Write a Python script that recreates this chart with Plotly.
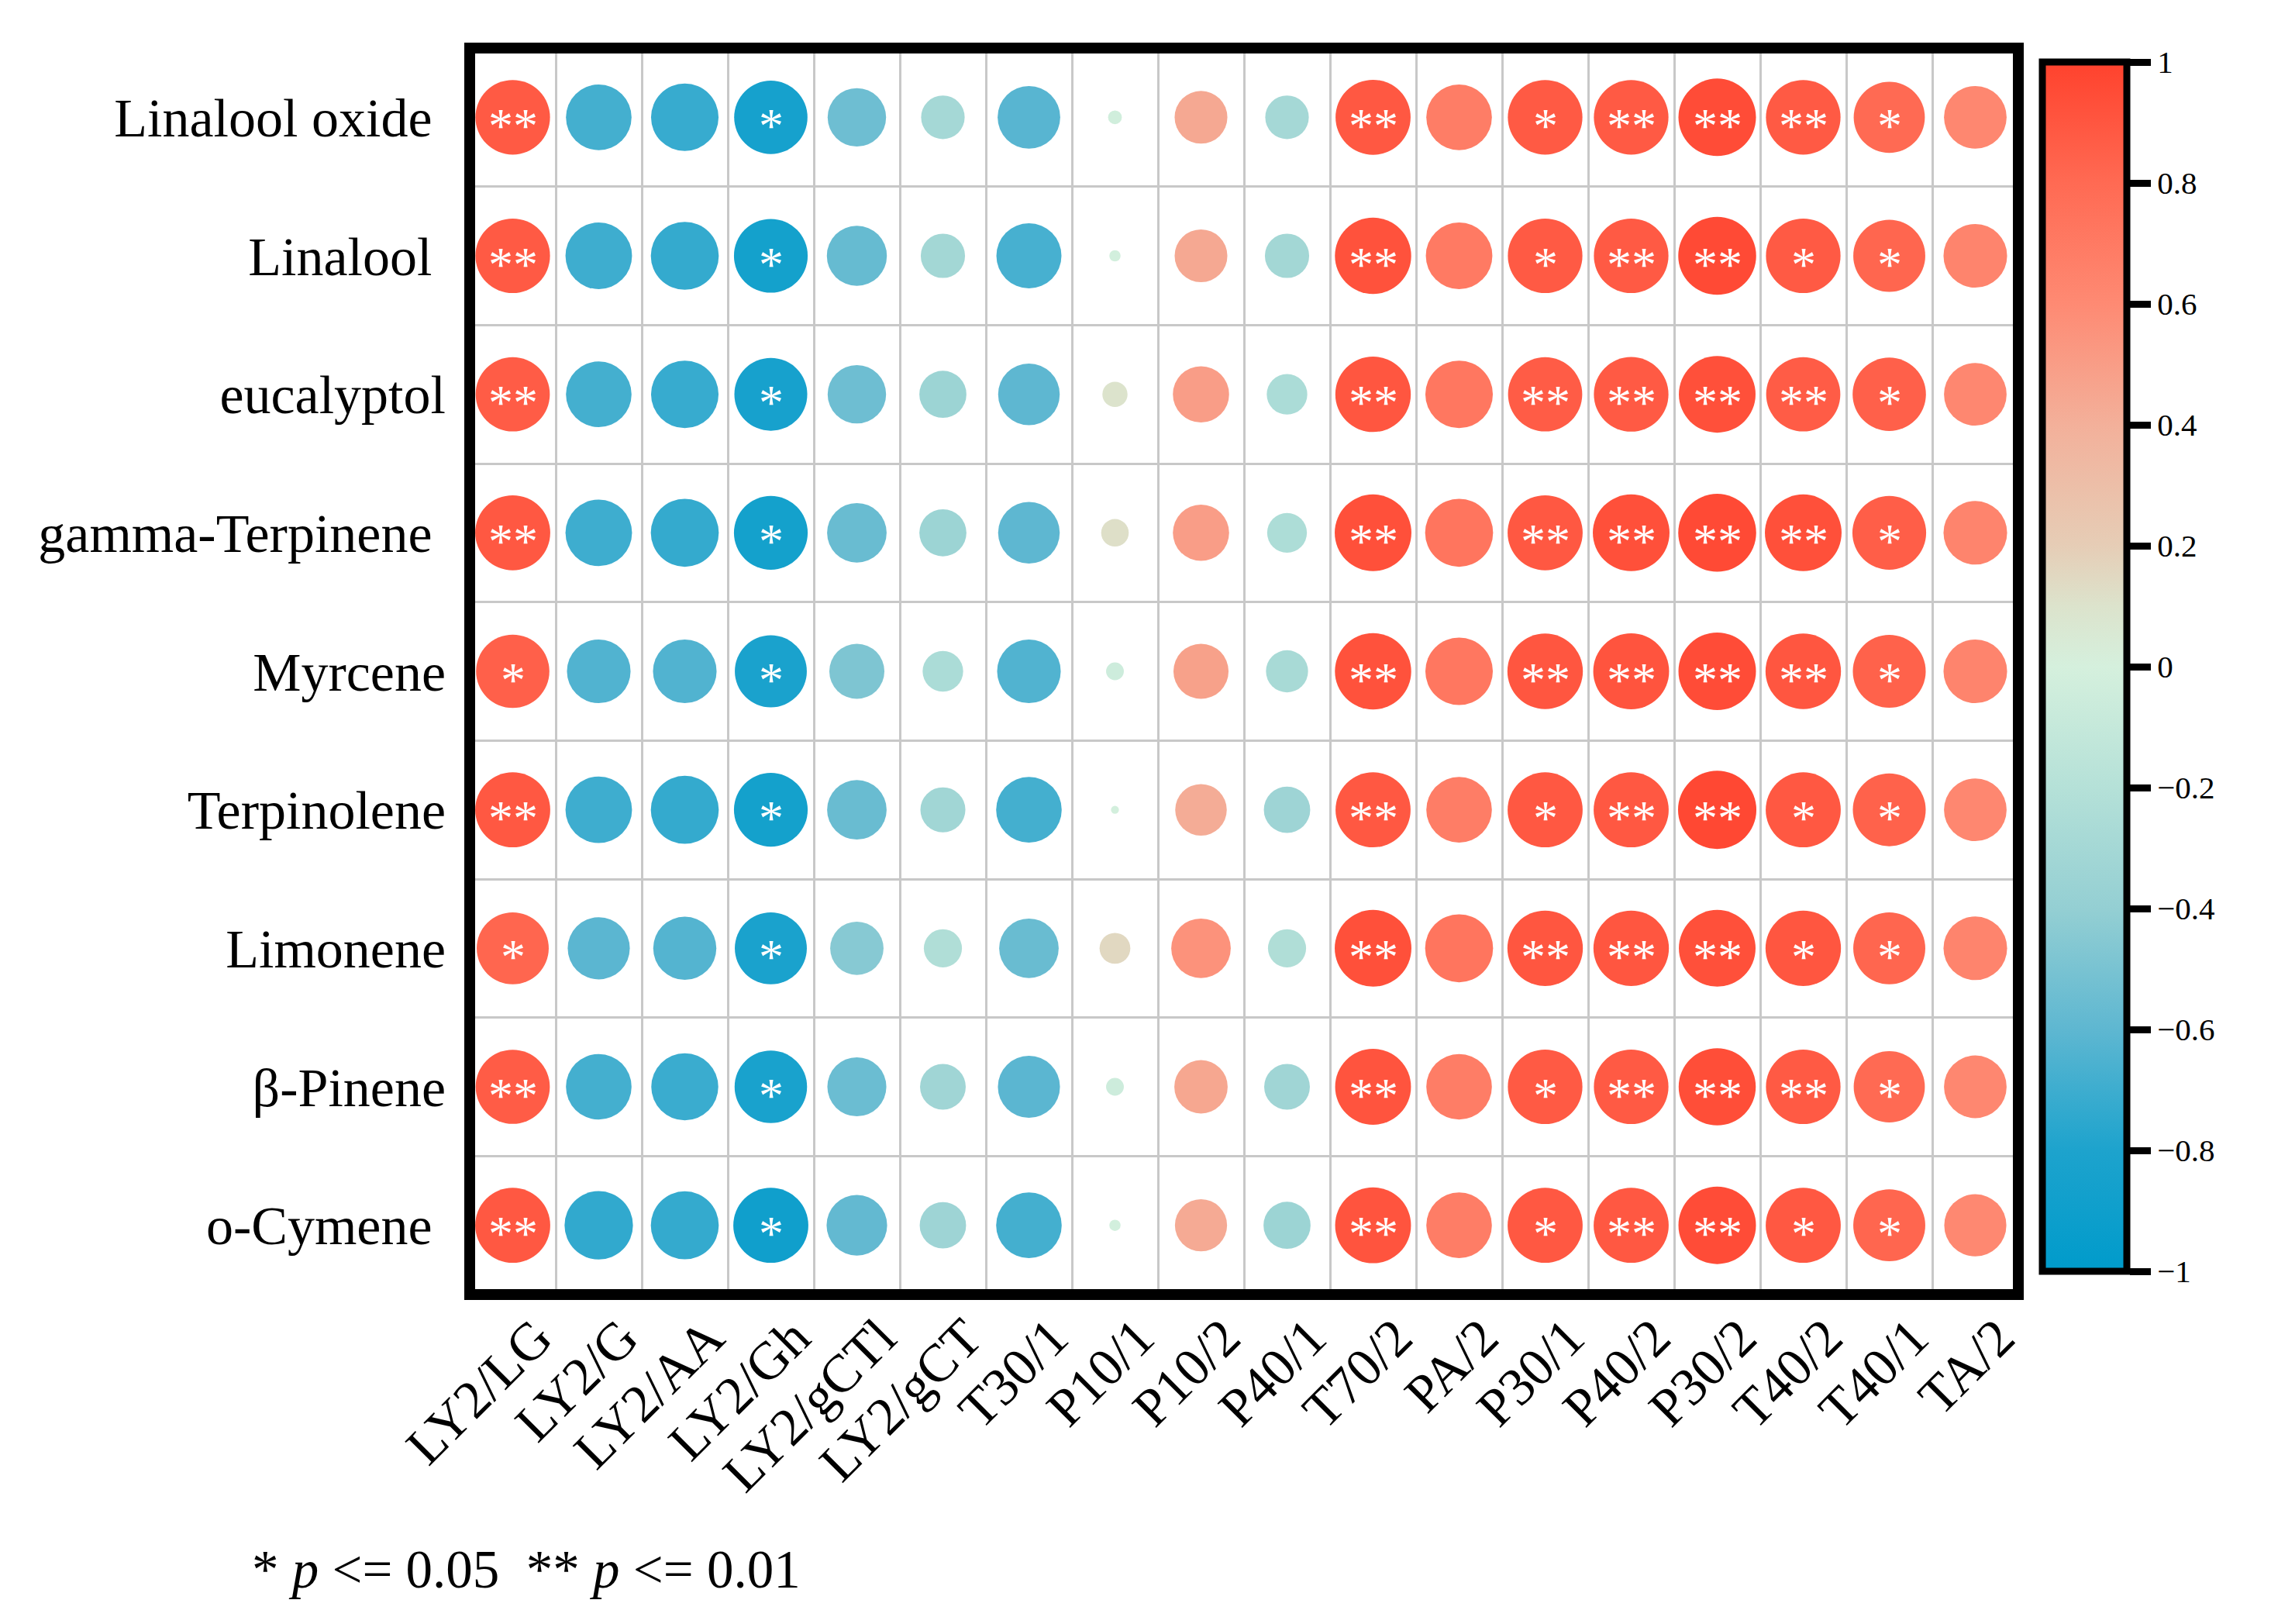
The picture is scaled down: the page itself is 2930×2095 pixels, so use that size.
import numpy as np
import plotly.graph_objects as go

# ---------------- data ----------------
samples = ["LY2/LG", "LY2/G", "LY2/AA", "LY2/Gh", "LY2/gCTl", "LY2/gCT", "T30/1",
           "P10/1", "P10/2", "P40/1", "T70/2", "PA/2", "P30/1", "P40/2", "P30/2",
           "T40/2", "T40/1", "TA/2"]

compounds = ["Linalool oxide ", "Linalool ", "eucalyptol", "gamma-Terpinene ",
             "Myrcene", "Terpinolene", "Limonene", "β-Pinene", "o-Cymene "]

r_linalool_oxide = [0.88, -0.68, -0.72, -0.85, -0.54, -0.30, -0.62, -0.03, 0.44, -0.30,
                    0.89, 0.68, 0.88, 0.88, 0.95, 0.88, 0.80, 0.62]
r_linalool = [0.88, -0.70, -0.73, -0.86, -0.57, -0.31, -0.67, -0.02, 0.44, -0.31,
              0.92, 0.70, 0.88, 0.88, 0.96, 0.88, 0.82, 0.64]
r_eucalyptol = [0.87, -0.68, -0.72, -0.84, -0.54, -0.35, -0.60, 0.10, 0.50, -0.26,
                0.90, 0.72, 0.87, 0.88, 0.93, 0.87, 0.85, 0.62]
r_gamma_terpinene = [0.89, -0.70, -0.73, -0.86, -0.56, -0.35, -0.60, 0.12, 0.50, -0.25,
                     0.93, 0.73, 0.89, 0.93, 0.96, 0.93, 0.86, 0.64]
r_myrcene = [0.85, -0.64, -0.64, -0.82, -0.48, -0.26, -0.64, -0.05, 0.48, -0.28,
             0.92, 0.72, 0.90, 0.91, 0.95, 0.90, 0.84, 0.64]
r_terpinolene = [0.89, -0.70, -0.73, -0.86, -0.56, -0.32, -0.68, -0.01, 0.42, -0.34,
                 0.89, 0.68, 0.89, 0.89, 0.97, 0.89, 0.84, 0.62]
r_limonene = [0.82, -0.61, -0.63, -0.82, -0.45, -0.23, -0.56, 0.15, 0.56, -0.23,
              0.93, 0.73, 0.90, 0.90, 0.93, 0.90, 0.82, 0.64]
r_beta_pinene = [0.87, -0.68, -0.71, -0.83, -0.55, -0.33, -0.61, -0.05, 0.45, -0.33,
                 0.91, 0.68, 0.88, 0.88, 0.94, 0.88, 0.80, 0.62]
r_o_cymene = [0.89, -0.74, -0.73, -0.89, -0.58, -0.34, -0.68, -0.02, 0.43, -0.35,
              0.91, 0.68, 0.89, 0.89, 0.95, 0.89, 0.82, 0.61]

sig_linalool_oxide = ["**", "", "", "*", "", "", "", "", "", "", "**", "", "*", "**", "**", "**", "*", ""]
sig_linalool = ["**", "", "", "*", "", "", "", "", "", "", "**", "", "*", "**", "**", "*", "*", ""]
sig_eucalyptol = ["**", "", "", "*", "", "", "", "", "", "", "**", "", "**", "**", "**", "**", "*", ""]
sig_gamma_terpinene = ["**", "", "", "*", "", "", "", "", "", "", "**", "", "**", "**", "**", "**", "*", ""]
sig_myrcene = ["*", "", "", "*", "", "", "", "", "", "", "**", "", "**", "**", "**", "**", "*", ""]
sig_terpinolene = ["**", "", "", "*", "", "", "", "", "", "", "**", "", "*", "**", "**", "*", "*", ""]
sig_limonene = ["*", "", "", "*", "", "", "", "", "", "", "**", "", "**", "**", "**", "*", "*", ""]
sig_beta_pinene = ["**", "", "", "*", "", "", "", "", "", "", "**", "", "*", "**", "**", "**", "*", ""]
sig_o_cymene = ["**", "", "", "*", "", "", "", "", "", "", "**", "", "*", "**", "**", "*", "*", ""]

r_rows = [r_linalool_oxide, r_linalool, r_eucalyptol, r_gamma_terpinene, r_myrcene,
          r_terpinolene, r_limonene, r_beta_pinene, r_o_cymene]
sig_rows = [sig_linalool_oxide, sig_linalool, sig_eucalyptol, sig_gamma_terpinene,
            sig_myrcene, sig_terpinolene, sig_limonene, sig_beta_pinene, sig_o_cymene]

cbar_ticks = [-1, -0.8, -0.6, -0.4, -0.2, 0, 0.2, 0.4, 0.6, 0.8, 1]

# ---------------- styling ----------------
FONT = "Liberation Serif"
W, H = 2930, 2095
OFF = 8  # page body margin offset
# target page-pixel positions of the plot box (frame centre lines)
BOX_L, BOX_R, BOX_T, BOX_B = 606, 2604, 62, 1670
ML = BOX_L - OFF
MT = BOX_T - OFF
MR = W - (BOX_R - OFF)
MB = H - (BOX_B - OFF)
PW = W - ML - MR
PH = H - MT - MB
MAX_D = 102.6  # marker diameter (px) at |r| = 1, area proportional to |r|


def px_x(page_x):
    return (page_x - BOX_L) / PW


def px_y(page_y):
    return (BOX_B - page_y) / PH


colorscale = [
    [0.00, "#009BCB"],
    [0.10, "#1DA3CD"],
    [0.20, "#5EB7D1"],
    [0.30, "#94CFD3"],
    [0.40, "#B5E1D8"],
    [0.50, "#D5F0DD"],
    [0.55, "#DCE3CC"],
    [0.60, "#E6CDB6"],
    [0.70, "#F3B09A"],
    [0.80, "#FE8A73"],
    [0.90, "#FF6A53"],
    [1.00, "#FF422D"],
]

xs, ys, vals, sizes = [], [], [], []
for comp, row in zip(compounds, r_rows):
    for samp, v in zip(samples, row):
        xs.append(samp)
        ys.append(comp)
        vals.append(v)
        sizes.append(MAX_D * np.sqrt(abs(v)))

fig = go.Figure()
fig.add_trace(go.Scatter(
    x=xs, y=ys, mode="markers",
    marker=dict(
        size=sizes, color=vals, colorscale=colorscale, cmin=-1, cmax=1,
        line=dict(width=0), opacity=1,
        colorbar=dict(
            x=px_x(2635), xanchor="left", xpad=0,
            y=px_y(860), yanchor="middle", ypad=0,
            lenmode="pixels", len=1560,
            thicknessmode="pixels", thickness=109,
            outlinewidth=9, outlinecolor="black",
            tickmode="array", tickvals=cbar_ticks,
            ticktext=[("−" if t < 0 else "") + (f"{abs(t):g}") for t in cbar_ticks],
            ticks="outside", ticklen=27, tickwidth=9, tickcolor="black",
            tickfont=dict(family=FONT, size=41, color="black"),
        ),
    ),
    hoverinfo="skip", showlegend=False,
))

# significance stars
for comp, srow in zip(compounds, sig_rows):
    for samp, s in zip(samples, srow):
        if s:
            fig.add_annotation(x=samp, y=comp, text=s, showarrow=False,
                               font=dict(family=FONT, size=64, color="white"),
                               xanchor="center", yanchor="middle", yshift=-11)

fig.add_annotation(
    xref="paper", yref="paper",
    x=px_x(323), y=px_y(2025),
    xanchor="left", yanchor="middle", showarrow=False,
    text="* <i>p</i> <= 0.05  ** <i>p</i> <= 0.01",
    font=dict(family=FONT, size=69, color="black"),
)

# outer frame
fig.add_shape(type="rect", xref="paper", yref="paper", x0=0, x1=1, y0=0, y1=1,
              line=dict(color="black", width=14), layer="above")

ytext = [c.rstrip() + ("\u00a0" if c.endswith(" ") else "") for c in compounds]

fig.update_xaxes(
    type="category", categoryorder="array", categoryarray=samples,
    range=[-0.5, len(samples) - 0.5],
    tickson="boundaries", ticks="", showgrid=True, gridcolor="#C8C8C8", gridwidth=3,
    tickangle=-45, tickfont=dict(family=FONT, size=69, color="black"),
    ticklabelshift=30,
    showline=False, zeroline=False, fixedrange=True,
)
fig.update_yaxes(
    type="category", categoryorder="array", categoryarray=compounds,
    tickmode="array", tickvals=compounds, ticktext=ytext,
    range=[len(compounds) - 0.5, -0.5],
    tickson="boundaries", ticks="", showgrid=True, gridcolor="#C8C8C8", gridwidth=3,
    ticklabelstandoff=30,
    tickfont=dict(family=FONT, size=70, color="black"),
    showline=False, zeroline=False, fixedrange=True,
)

fig.update_layout(
    width=W, height=H,
    margin=dict(l=ML, r=MR, t=MT, b=MB, autoexpand=False),
    paper_bgcolor="white", plot_bgcolor="white",
    font=dict(family=FONT, color="black"),
)

fig.write_html("out.html")
